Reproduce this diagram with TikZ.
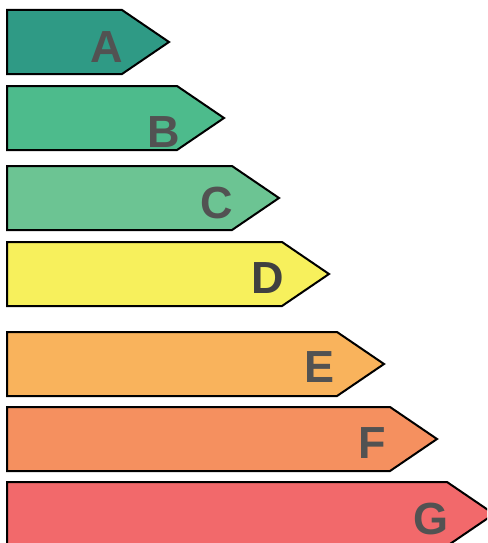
\documentclass[tikz,border=0pt]{standalone}
\usepackage{fontspec}
\setmainfont{Liberation Sans}

\definecolor{classA}{HTML}{2F9A85}
\definecolor{classB}{HTML}{4DBB8C}
\definecolor{classC}{HTML}{6CC493}
\definecolor{classD}{HTML}{F7F05C}
\definecolor{classE}{HTML}{F9B35C}
\definecolor{classF}{HTML}{F5905F}
\definecolor{classG}{HTML}{F2696B}
\definecolor{letter}{HTML}{525252}

\tikzset{
  bar/.style={draw=black, line width=2pt, line join=miter},
  grade/.style={text=letter, font=\fontsize{45}{45}\selectfont\bfseries, inner sep=0pt}
}

\begin{document}
\begin{tikzpicture}[x=1pt,y=-1pt]
  \useasboundingbox (0,0) rectangle (487,543);
  \clip (0,0) rectangle (487,543);

  % arrows: name / top / shoulder / colour
  \foreach \name/\top/\sh/\col in {A/10/122/classA, B/86/177/classB,
      C/166/232/classC, D/242/282/classD, E/332/337/classE,
      F/407/390/classF, G/482/447/classG}
  {
    \draw[bar, fill=\col] (7,\top) -- (\sh,\top) -- ++(47,32) -- (\sh,\top+64)
      -- (7,\top+64) -- cycle;
  }

  % letters
  \node[grade] (gradeA) at (107,47)  {A};
  \node[grade] (gradeB) at (164,132) {B};
  \node[grade] (gradeC) at (217,203) {C};
  \node[grade, text=black!75] (gradeD) at (268,278) {D};
  \node[grade] (gradeE) at (320,367) {E};
  \node[grade] (gradeF) at (372,443) {F};
  \node[grade] (gradeG) at (431,519) {G};
\end{tikzpicture}
\end{document}
